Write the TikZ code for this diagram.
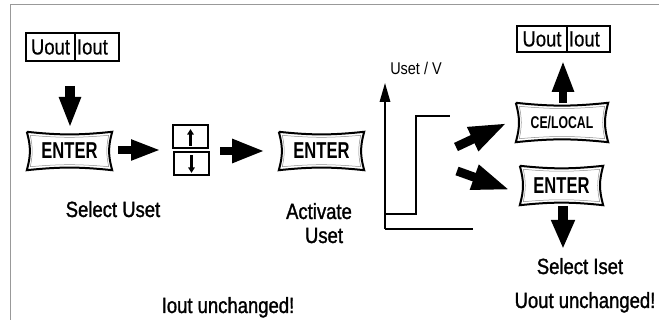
\documentclass[tikz,border=0pt]{standalone}
\usepackage{fontspec}
\setmainfont{Liberation Sans}[FakeStretch=0.84,FakeBold=1.3]
\newfontfamily\keyfont{Liberation Sans}[FakeStretch=0.72]
\newfontfamily\thinfont{Liberation Sans}[FakeStretch=0.85]
\newfontfamily\cellfont{Liberation Sans}[FakeStretch=0.84,FakeBold=0.6]
\usetikzlibrary{arrows.meta,calc}
\tikzset{
  lbl/.style={inner sep=0pt, font=\fontsize{22}{26}\selectfont},
  cell/.style={draw, line width=2.6pt, inner sep=0pt, font=\cellfont\fontsize{22}{26}\selectfont},
  keytxt/.style={inner sep=0pt, font=\keyfont\bfseries\fontsize{23}{26}\selectfont},
  keyline/.style={line width=2pt, line join=miter, miter limit=20},
  keyinner/.style={line width=0.5pt, black!45},
  ubox/.style={draw, line width=1.8pt, inner sep=0pt},
  barrow/.style n args={3}{line width=#1pt, -{Triangle[width=#2pt,length=#3pt]}},
  smallarrow/.style={line width=2.3pt, -{Triangle[width=6.5pt,length=5.5pt]}},
  axis/.style={line width=1.7pt, -{Triangle[width=10.5pt,length=19pt]}},
  plot/.style={line width=1.7pt},
  frame/.style={line width=1pt, black!40}
}
\newcommand\keyshape[1]{%
  \draw[keyline] (#1.north west) to[bend right=6] (#1.north east)
     to[bend right=16] (#1.south east) to[bend right=6] (#1.south west)
     to[bend right=16] (#1.north west);
  \draw[keyinner] ([shift={(3.5,3.5)}]#1.north west) to[bend right=5] ([shift={(-3.5,3.5)}]#1.north east)
     to[bend right=12] ([shift={(-3.5,-3.5)}]#1.south east) to[bend right=5] ([shift={(3.5,-3.5)}]#1.south west)
     to[bend right=12] ([shift={(3.5,3.5)}]#1.north west);
}
\begin{document}
\begin{tikzpicture}[x=1pt,y=-1pt]
\useasboundingbox (0,0) rectangle (659,320);
% frame
\draw[frame] (10,320) -- (10,5) -- (659,5);

% top-left display
\node[cell, minimum width=49pt, minimum height=28pt] (uo1) at (50.5,47) {Uout};
\node[cell, minimum width=44pt, minimum height=28pt, inner xsep=2pt, text width=40pt, align=left] (io1) at (97,47) {Iout};

% keys
\node[keytxt, minimum width=85pt, minimum height=38pt] (ent1) at (69.5,151) {ENTER};
\keyshape{ent1}
\node[keytxt, minimum width=85pt, minimum height=38pt] (ent2) at (321.5,151) {ENTER};
\keyshape{ent2}
\node[keytxt, font=\keyfont\bfseries\fontsize{17}{20}\selectfont, minimum width=92pt, minimum height=39pt] (ce) at (562,122.5) {CE/LOCAL};
\keyshape{ce}
\node[keytxt, minimum width=83pt, minimum height=39pt] (ent3) at (561.5,185.5) {ENTER};
\keyshape{ent3}

% up/down keys
\node[ubox, minimum width=35pt, minimum height=23pt] (kup) at (190.5,136.5) {};
\node[ubox, minimum width=35pt, minimum height=23pt] (kdn) at (191.5,163.5) {};
\draw[smallarrow] ($(kup.south)+(0,-3)$) -- ($(kup.north)+(0,5)$);
\draw[smallarrow] ($(kdn.north)+(0,4)$) -- ($(kdn.south)+(0,-3)$);

% top-right display
\node[cell, minimum width=50pt, minimum height=26pt] (uo2) at (542,39) {Uout};
\node[cell, minimum width=43pt, minimum height=26pt, inner xsep=2pt, text width=39pt, align=left] (io2) at (588.5,39) {Iout};

% block arrows
\coordinate (a1s) at (70,86);   \coordinate (a1e) at (70,128);
\coordinate (a2s) at (118,150); \coordinate (a2e) at (161,150);
\coordinate (a3s) at (220,151); \coordinate (a3e) at (265,151);
\coordinate (a4s) at (456,147); \coordinate (a4e) at (507,123);
\coordinate (a5s) at (457,171); \coordinate (a5e) at (510,190);
\coordinate (a6s) at (563,103); \coordinate (a6e) at (563,60);
\coordinate (a7s) at (563,206); \coordinate (a7e) at (563,249);
\draw[barrow={10}{20}{31}] (a1s) -- (a1e);
\draw[barrow={8.5}{19}{30}] (a2s) -- (a2e);
\draw[barrow={8.5}{22}{33}] (a3s) -- (a3e);
\draw[barrow={9}{24}{38}] (a4s) -- (a4e);
\draw[barrow={9}{24}{38}] (a5s) -- (a5e);
\draw[barrow={8.5}{20}{32}] (a6s) -- (a6e);
\draw[barrow={10}{22}{29}] (a7s) -- (a7e);

% Uset / V graph
\coordinate (o) at (385,229);
\coordinate (top) at (385,83);
\coordinate (bx) at (473,229);
\coordinate (s0) at (385,214);
\coordinate (s1) at (416,214);
\coordinate (s2) at (416,116);
\coordinate (s3) at (450,116);
\draw[axis] (o) -- (top);
\draw[plot] (o) -- (bx);
\draw[plot] (s0) -- (s1) -- (s2) -- (s3);
\node[lbl, anchor=base, font=\thinfont\fontsize{17}{20}\selectfont] (uv) at (416,75) {Uset / V};

% labels
\node[lbl, anchor=base] (selU) at (113,217) {Select Uset};
\node[lbl, anchor=base] (act) at (319,219) {Activate};
\node[lbl, anchor=base] (actU) at (324,243) {Uset};
\node[lbl, anchor=base] (selI) at (580,274) {Select Iset};
\node[lbl, anchor=base] (iun) at (228,313) {Iout unchanged!};
\node[lbl, anchor=base] (uun) at (585,308) {Uout unchanged!};
\end{tikzpicture}
\end{document}
